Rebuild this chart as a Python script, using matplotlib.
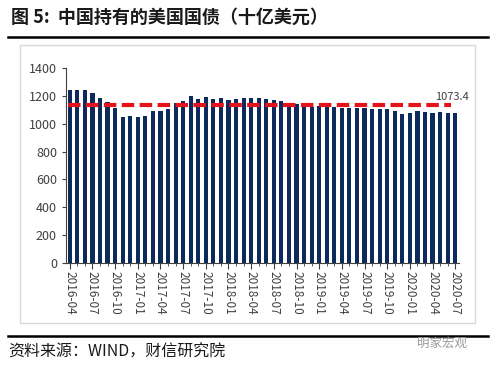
import matplotlib.pyplot as plt
from matplotlib.patches import Rectangle
from matplotlib.lines import Line2D

plt.rcParams['font.family'] = ['Noto Sans CJK SC', 'DejaVu Sans']

# 中国持有的美国国债, 十亿美元, 2016-04 .. 2020-07
months = ['2016-04', '2016-05', '2016-06', '2016-07', '2016-08', '2016-09',
          '2016-10', '2016-11', '2016-12', '2017-01', '2017-02', '2017-03',
          '2017-04', '2017-05', '2017-06', '2017-07', '2017-08', '2017-09',
          '2017-10', '2017-11', '2017-12', '2018-01', '2018-02', '2018-03',
          '2018-04', '2018-05', '2018-06', '2018-07', '2018-08', '2018-09',
          '2018-10', '2018-11', '2018-12', '2019-01', '2019-02', '2019-03',
          '2019-04', '2019-05', '2019-06', '2019-07', '2019-08', '2019-09',
          '2019-10', '2019-11', '2019-12', '2020-01', '2020-02', '2020-03',
          '2020-04', '2020-05', '2020-06', '2020-07']
holdings = [1244.2, 1244.8, 1240.8, 1218.8, 1185.1, 1157.0,
            1115.7, 1049.3, 1058.4, 1051.1, 1058.8, 1088.1,
            1092.3, 1102.1, 1146.7, 1166.0, 1200.5, 1180.8,
            1189.0, 1176.9, 1184.9, 1168.2, 1176.3, 1187.7,
            1181.9, 1183.1, 1178.8, 1171.0, 1165.1, 1150.7,
            1138.8, 1121.4, 1123.1, 1126.5, 1130.9, 1120.5,
            1113.0, 1110.2, 1112.5, 1110.0, 1103.6, 1102.1,
            1105.0, 1092.0, 1069.8, 1078.6, 1092.3, 1081.6,
            1073.9, 1083.0, 1074.4, 1073.4]
avg_level = 1134
last_label = '1073.4'

fig = plt.figure(figsize=(5, 3.65), dpi=100)

# title, rules and chart frame
fig.text(0.022, 0.952, '图 5:  中国持有的美国国债（十亿美元）', fontsize=13,
         fontweight='bold', color='#1a1a1a', va='center', ha='left')
fig.add_artist(Line2D([0.016, 0.975], [0.899, 0.899], color='black', lw=1.8))
fig.add_artist(Line2D([0.016, 0.975], [0.079, 0.079], color='black', lw=1.8))
fig.add_artist(Rectangle((0.04, 0.115), 0.91, 0.762, fill=False,
                         edgecolor='#d9d9d9', lw=1))
fig.text(0.016, 0.034, '资料来源：WIND，财信研究院', fontsize=11.5,
         color='#1a1a1a', va='center', ha='left', style='italic')
fig.text(0.935, 0.06, '明家宏观', fontsize=9, color='#9a9a9a',
         va='center', ha='right')

ax = fig.add_axes([0.132, 0.2795, 0.786, 0.5342])
x = list(range(len(months)))
ax.bar(x, holdings, width=0.55, color='#0c2a5c', zorder=2)
ax.plot([-0.3, len(months) - 1.6], [avg_level, avg_level], color='#e3121b',
        lw=3.0, dashes=(3.0, 1.3), zorder=3)
ax.text(len(months) - 3.7, 1190, last_label, fontsize=8,
        color='#404040', ha='left', va='center')

ax.set_xlim(-0.5, len(months) - 0.5)
ax.set_ylim(0, 1400)
ax.set_yticks(range(0, 1401, 200))
ax.set_xticks(x[::3])
ax.set_xticklabels(months[::3], rotation=-90, fontsize=8.5, color='#404040')
ax.set_xticks(x, minor=True)
ax.tick_params(axis='y', labelsize=9, colors='#404040', length=3)
ax.tick_params(axis='x', which='major', length=4, color='#404040', pad=2)
ax.tick_params(axis='x', which='minor', length=2, color='#404040')
for side in ['top', 'right']:
    ax.spines[side].set_visible(False)
for side in ['left', 'bottom']:
    ax.spines[side].set_color('#404040')

plt.savefig('out.png', dpi=100)
